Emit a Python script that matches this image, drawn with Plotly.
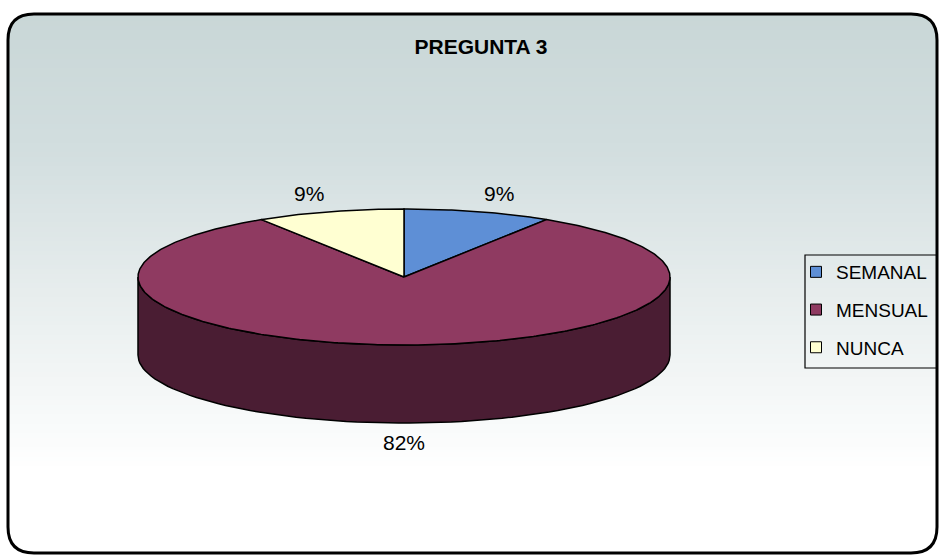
import numpy as np
import plotly.graph_objects as go

# Survey answers for question 3
categories = ["SEMANAL", "MENSUAL", "NUNCA"]
values = [9, 82, 9]
labels = ["9%", "82%", "9%"]
top_colors = ["#5E8FD6", "#8F3A61", "#FFFFD2"]
side_colors = ["#2F4A70", "#4A1D33", "#807F66"]

W, H = 941, 557
FONT = "Liberation Sans, Arial, sans-serif"

# Elliptical 3-D pie geometry (pixel units on hidden axes)
cx, cy = 404, 277
rx, ry = 266, 68
depth = 78
label_k = 1.28


def pt(theta_deg, dy=0.0):
    t = np.radians(theta_deg)
    return cx + rx * np.sin(t), cy - ry * np.cos(t) + dy


fig = go.Figure()

# Background gradient
ys = np.linspace(0, H, 120)
stops = [(0, (200, 214, 214)), (150, (210, 222, 223)), (300, (232, 238, 238)),
         (420, (248, 250, 250)), (470, (255, 255, 255)), (H, (255, 255, 255))]
z = np.column_stack([ys, ys])
cscale = [[s / H, "rgb(%d,%d,%d)" % c] for s, c in stops]
fig.add_trace(go.Heatmap(x=[0, W], y=ys, z=z, colorscale=cscale, showscale=False,
                         zmin=0, zmax=H, hoverinfo="skip"))

# Slice angles: clockwise from 12 o'clock
total = sum(values)
bounds = np.concatenate([[0], np.cumsum(values)]) / total * 360.0

# Visible front walls
for i, (a, b) in enumerate(zip(bounds[:-1], bounds[1:])):
    s, e = max(a, 90), min(b, 270)
    if e <= s:
        continue
    th = np.linspace(s, e, 80)
    top = [pt(t) for t in th]
    bot = [pt(t, depth) for t in th[::-1]]
    poly = top + bot + [top[0]]
    fig.add_trace(go.Scatter(x=[p[0] for p in poly], y=[p[1] for p in poly],
                             mode="lines", fill="toself", fillcolor=side_colors[i],
                             line=dict(color="black", width=1.5),
                             showlegend=False, hoverinfo="skip"))

# Top faces
for i, (a, b) in enumerate(zip(bounds[:-1], bounds[1:])):
    th = np.linspace(a, b, max(int((b - a) * 1.5), 4))
    poly = [(cx, cy)] + [pt(t) for t in th] + [(cx, cy)]
    fig.add_trace(go.Scatter(x=[p[0] for p in poly], y=[p[1] for p in poly],
                             mode="lines", fill="toself", fillcolor=top_colors[i],
                             line=dict(color="black", width=1.5),
                             showlegend=False, hoverinfo="skip"))

# Percentage labels outside each slice
for i, (a, b) in enumerate(zip(bounds[:-1], bounds[1:])):
    mid = np.radians((a + b) / 2)
    lx = cx + label_k * rx * np.sin(mid)
    ly = cy - label_k * ry * np.cos(mid) + (depth if np.cos(mid) < 0 else 0)
    fig.add_annotation(x=lx, y=ly, text=labels[i], showarrow=False,
                       font=dict(family=FONT, size=21, color="black"))

# Legend entries
for i, name in enumerate(categories):
    fig.add_trace(go.Scatter(x=[None], y=[None], mode="markers", name=name,
                             legendgroup=name,
                             marker=dict(symbol="square", size=11, color=top_colors[i],
                                         line=dict(color="black", width=1))))

# Legend frame
fig.add_shape(type="rect", xref="paper", yref="paper",
              x0=805 / W, x1=937 / W, y0=1 - 255 / H, y1=1 - 368 / H,
              line=dict(color="black", width=1.2), fillcolor="rgba(0,0,0,0)")

# Rounded frame and white outside corners
x0, y0, x1, y1, r = 8.0 / W, 1 - 14.0 / H, 937.0 / W, 1 - 553.0 / H, 26
rxp, ryp = r / W, r / H


def rounded(x0, y0, x1, y1):
    return (f"M {x0 + rxp} {y0} L {x1 - rxp} {y0} Q {x1} {y0} {x1} {y0 - ryp} "
            f"L {x1} {y1 + ryp} Q {x1} {y1} {x1 - rxp} {y1} "
            f"L {x0 + rxp} {y1} Q {x0} {y1} {x0} {y1 + ryp} "
            f"L {x0} {y0 - ryp} Q {x0} {y0} {x0 + rxp} {y0} Z")


fig.add_shape(type="path", xref="paper", yref="paper",
              path="M 0 0 L 1 0 L 1 1 L 0 1 Z " + rounded(x0, y0, x1, y1),
              fillcolor="white", fillrule="evenodd", line=dict(width=0), layer="above")
fig.add_shape(type="path", xref="paper", yref="paper", path=rounded(x0, y0, x1, y1),
              line=dict(color="black", width=3), layer="above")

fig.update_layout(
    width=W, height=H,
    margin=dict(l=0, r=0, t=0, b=0),
    paper_bgcolor="white", plot_bgcolor="white",
    xaxis=dict(range=[0, W], visible=False, fixedrange=True),
    yaxis=dict(range=[H, 0], visible=False, fixedrange=True),
    title=dict(text="<b>PREGUNTA 3</b>", x=481 / W, y=1 - 47 / H, xanchor="center",
               yanchor="middle",
               font=dict(family=FONT, size=21, color="black")),
    legend=dict(x=796 / W, y=1 - 253 / H, xanchor="left", yanchor="top",
                borderwidth=0, bgcolor="rgba(0,0,0,0)",
                tracegroupgap=10,
                font=dict(family=FONT, size=19, color="black"),
                itemwidth=30),
    showlegend=True,
)

fig.write_html("out.html")
